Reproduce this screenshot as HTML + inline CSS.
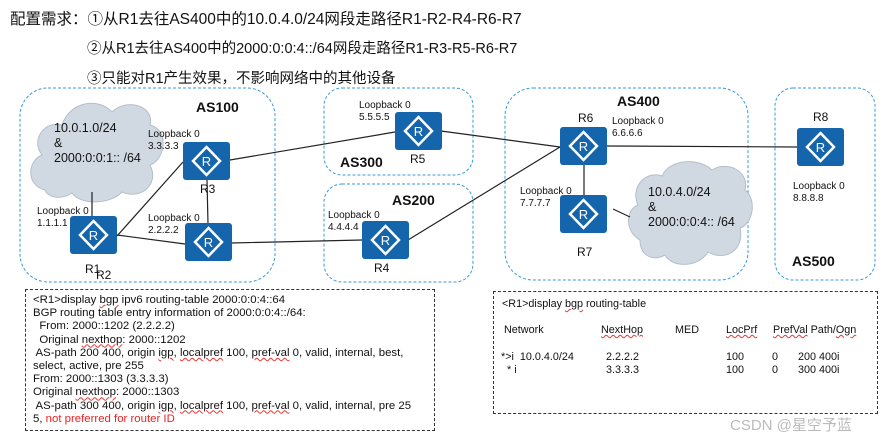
<!DOCTYPE html>
<html><head><meta charset="utf-8"><style>
body{margin:0;background:#fff;width:896px;height:443px;overflow:hidden;font-family:"Liberation Sans","Noto Sans CJK SC",sans-serif}
svg text{font-family:"Liberation Sans","Noto Sans CJK SC",sans-serif}
.t{position:absolute;font-size:14.5px;color:#111;white-space:nowrap}
.box{position:absolute;border:1px dashed #333;font-size:11.4px;line-height:13.2px;color:#111;white-space:pre}
.u{text-decoration:underline wavy #e33;text-decoration-thickness:1px}
</style></head><body>
<div class="t" style="left:10px;top:7px;font-size:15.5px">配置需求：①从R1去往AS400中的10.0.4.0/24网段走路径R1-R2-R4-R6-R7</div>
<div class="t" style="left:87px;top:37px">②从R1去往AS400中的2000:0:0:4::/64网段走路径R1-R3-R5-R6-R7</div>
<div class="t" style="left:87px;top:67px">③只能对R1产生效果，不影响网络中的其他设备</div>
<svg width="896" height="443" style="position:absolute;left:0;top:0">
<defs>
<g id="r"><rect x="0" y="0" width="47" height="38" rx="3" fill="#1565ad"/><path d="M23.5 5 L37 19 L23.5 33 L10 19Z" fill="none" stroke="#fff" stroke-width="2.5"/><text x="23.5" y="24" font-size="13" fill="#fff" text-anchor="middle">R</text></g>
</defs>
<g fill="none" stroke="#3a9ad9" stroke-dasharray="3,2" stroke-width="1">
<rect x="20" y="88" width="255" height="194" rx="28"/>
<rect x="324" y="88" width="149" height="87" rx="18"/>
<rect x="324" y="184" width="149" height="98" rx="18"/>
<rect x="505" y="88" width="243" height="192" rx="28"/>
<rect x="775" y="88" width="100" height="192" rx="18"/>
</g>
<g fill="#d0d8e2" stroke="#b4bfcc">
<path d="M45 190 C25 185 28 160 42 155 C30 140 45 120 62 125 C70 100 100 98 112 112 C125 98 155 105 150 125 C170 130 165 160 150 165 C160 185 140 200 122 192 C110 205 80 205 72 193 C62 200 48 198 45 190Z"/>
<path d="M640 240 C625 232 625 210 638 205 C630 188 645 170 662 176 C670 158 700 158 712 170 C728 160 750 172 745 190 C758 200 752 225 740 228 C745 250 725 262 708 252 C698 268 672 268 665 255 C652 262 640 255 640 240Z"/>
</g>
<g stroke="#222" stroke-width="1.2">
<line x1="92" y1="192" x2="92" y2="216"/>
<line x1="230" y1="160" x2="395" y2="132"/>
<line x1="117" y1="236" x2="183" y2="162"/>
<line x1="117" y1="235" x2="185" y2="244"/>
<line x1="207" y1="180" x2="208" y2="224"/>
<line x1="231" y1="243" x2="362" y2="240"/>
<line x1="408" y1="240" x2="560" y2="147"/>
<line x1="441" y1="131" x2="560" y2="147"/>
<line x1="607" y1="146" x2="797" y2="147"/>
<line x1="584" y1="165" x2="584" y2="195"/>
<line x1="613" y1="209" x2="630" y2="217"/>
</g>
<use href="#r" x="70" y="216"/><use href="#r" x="183" y="142"/><use href="#r" x="185" y="223"/>
<use href="#r" x="362" y="221"/><use href="#r" x="395" y="112"/><use href="#r" x="560" y="127"/>
<use href="#r" x="560" y="195"/><use href="#r" x="797" y="128"/>
<g font-size="14" font-weight="bold" fill="#111">
<text x="196" y="112">AS100</text><text x="340" y="167">AS300</text><text x="392" y="205">AS200</text>
<text x="617" y="106">AS400</text><text x="792" y="266">AS500</text>
</g>
<g font-size="12.5" fill="#111">
<text x="54" y="132">10.0.1.0/24</text><text x="54" y="147">&amp;</text><text x="54" y="162">2000:0:0:1:: /64</text>
<text x="648" y="196">10.0.4.0/24</text><text x="648" y="211">&amp;</text><text x="648" y="226">2000:0:0:4:: /64</text>
</g>
<g font-size="12" fill="#111">
<text x="85" y="273">R1</text><text x="96" y="279">R2</text><text x="200" y="193">R3</text>
<text x="374" y="272">R4</text><text x="410" y="163">R5</text><text x="578" y="122">R6</text>
<text x="577" y="256">R7</text><text x="813" y="121">R8</text>
</g>
<g font-size="10" fill="#111">
<text x="148" y="137">Loopback 0</text><text x="148" y="149">3.3.3.3</text>
<text x="37" y="214">Loopback 0</text><text x="37" y="226">1.1.1.1</text>
<text x="148" y="221">Loopback 0</text><text x="148" y="233">2.2.2.2</text>
<text x="328" y="218">Loopback 0</text><text x="328" y="230">4.4.4.4</text>
<text x="359" y="108">Loopback 0</text><text x="359" y="120">5.5.5.5</text>
<text x="612" y="124">Loopback 0</text><text x="612" y="136">6.6.6.6</text>
<text x="520" y="194">Loopback 0</text><text x="520" y="206">7.7.7.7</text>
<text x="793" y="189">Loopback 0</text><text x="793" y="201">8.8.8.8</text>
</g>
</svg>
<div class="box" style="left:25px;top:289px;width:401px;height:136px;padding:4px 0 0 7px">&lt;R1&gt;display <span class="u">bgp</span> ipv6 routing-table 2000:0:0:4::64
BGP routing table entry information of 2000:0:0:4::/64:
  From: 2000::1202 (2.2.2.2)
  Original <span class="u">nexthop</span>: 2000::1202
 AS-path 200 400, origin <span class="u">igp</span>, <span class="u">localpref</span> 100, <span class="u">pref-val</span> 0, valid, internal, best,
select, active, pre 255
From: 2000::1303 (3.3.3.3)
Original <span class="u">nexthop</span>: 2000::1303
 AS-path 300 400, origin <span class="u">igp</span>, <span class="u">localpref</span> 100, <span class="u">pref-val</span> 0, valid, internal, pre 25
5, <span style="color:#e22">not preferred for router ID</span></div>
<div class="box" style="left:493px;top:291px;width:383px;height:121px;font-size:10.8px">
<span style="position:absolute;left:8px;top:6px">&lt;R1&gt;display <span class="u">bgp</span> routing-table</span>
<span style="position:absolute;left:10px;top:32px">Network</span>
<span style="position:absolute;left:107px;top:32px" class="u">NextHop</span>
<span style="position:absolute;left:181px;top:32px">MED</span>
<span style="position:absolute;left:232px;top:32px" class="u">LocPrf</span>
<span style="position:absolute;left:279px;top:32px"><span class="u">PrefVal</span> Path/<span class="u">Ogn</span></span>
<span style="position:absolute;left:7px;top:59px">*&gt;i  10.0.4.0/24</span>
<span style="position:absolute;left:10px;top:72px"> * i</span>
<span style="position:absolute;left:112px;top:59px">2.2.2.2</span><span style="position:absolute;left:112px;top:72px">3.3.3.3</span>
<span style="position:absolute;left:232px;top:59px">100</span><span style="position:absolute;left:232px;top:72px">100</span>
<span style="position:absolute;left:278px;top:59px">0</span><span style="position:absolute;left:278px;top:72px">0</span>
<span style="position:absolute;left:304px;top:59px">200 400i</span><span style="position:absolute;left:304px;top:72px">300 400i</span>
</div>
<div class="t" style="left:730px;top:414px;color:#bbb;font-size:15px">CSDN @星空予蓝</div>
</body></html>
